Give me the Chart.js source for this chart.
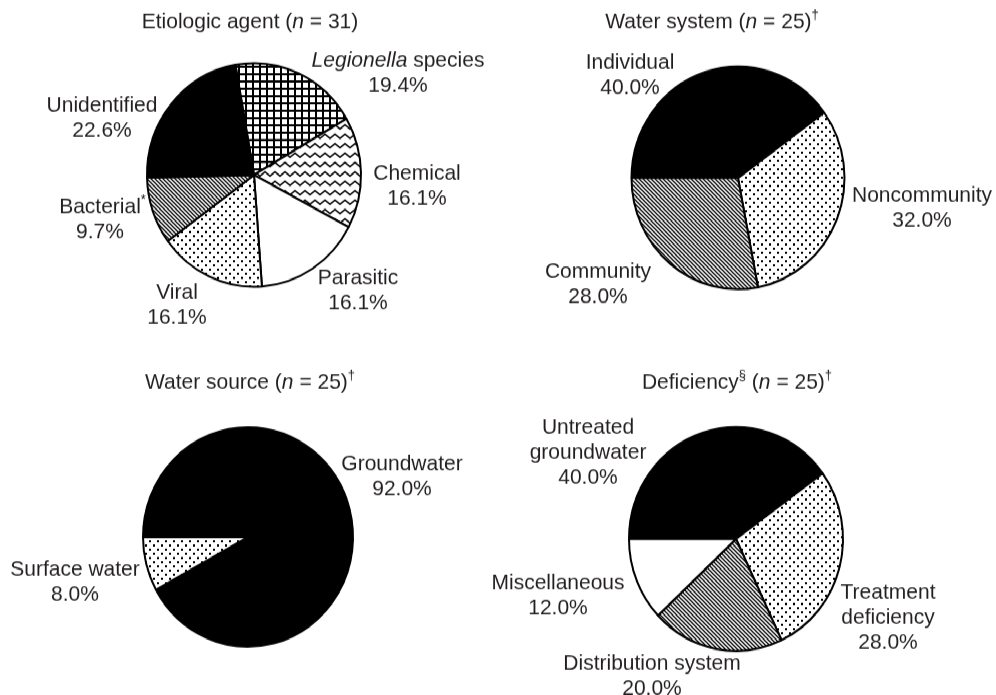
<!DOCTYPE html>
<html>
<head>
<meta charset="utf-8">
<title>Waterborne disease outbreaks</title>
<script src="https://cdn.jsdelivr.net/npm/chart.js@4.4.1/dist/chart.umd.min.js"></script>
<style>
    html, body { margin: 0; padding: 0; background: #fff; }
    /* the scanned figure is a little taller than wide, so stretch the page */
    #page { position: absolute; left: 0; top: 0; width: 996px; height: 665px;
            transform: scaleY(1.045); transform-origin: 0 0; }
    #page canvas { position: absolute; left: 0; top: 0; }
</style>
</head>
<body>
<div id="page">
    <canvas id="agentChart" width="996" height="665"></canvas>
    <canvas id="systemChart" width="996" height="665"></canvas>
    <canvas id="sourceChart" width="996" height="665"></canvas>
    <canvas id="deficiencyChart" width="996" height="665"></canvas>
</div>
<script>
// data

const agentCategories = ['Legionella species', 'Chemical', 'Parasitic', 'Viral', 'Bacterial', 'Unidentified'];
const agentValues = [19.4, 16.1, 16.1, 16.1, 9.7, 22.6];

const systemCategories = ['Individual', 'Noncommunity', 'Community'];
const systemValues = [40.0, 32.0, 28.0];

const sourceCategories = ['Groundwater', 'Surface water'];
const sourceValues = [92.0, 8.0];

const deficiencyCategories = ['Untreated groundwater', 'Treatment deficiency', 'Distribution system', 'Miscellaneous'];
const deficiencyValues = [40.0, 28.0, 20.0, 12.0];

const SY = 1.045;
const INK = '#231f20';
const FONT = '"Liberation Sans", Arial, Helvetica, sans-serif';
const LINE = 25;

// fills (black & white print patterns)

function makeFill(kind) {
    if (kind === 'black') return '#000';
    if (kind === 'white') return '#fff';
    const tile = document.createElement('canvas');
    const t = tile.getContext('2d');
    if (kind === 'grid') {
        tile.width = tile.height = 7;
        t.fillStyle = '#000';
        t.fillRect(0, 0, 7, 7);
        t.fillStyle = '#fff';
        t.fillRect(2, 2, 5, 5);
    } else if (kind === 'wave') {
        tile.width = 10; tile.height = 9;
        t.fillStyle = '#fff';
        t.fillRect(0, 0, 10, 9);
        t.strokeStyle = '#000';
        t.lineWidth = 1.6;
        t.lineCap = 'round';
        t.beginPath();
        t.moveTo(0, 6.5); t.lineTo(5, 2.5); t.lineTo(10, 6.5);
        t.stroke();
    } else if (kind === 'dots') {
        tile.width = tile.height = 8;
        t.fillStyle = '#fff';
        t.fillRect(0, 0, 8, 8);
        t.fillStyle = '#000';
        t.fillRect(1, 1, 2, 2);
        t.fillRect(5, 5, 2, 2);
    } else if (kind === 'hatch') {
        tile.width = tile.height = 4;
        t.fillStyle = '#fff';
        t.fillRect(0, 0, 4, 4);
        t.strokeStyle = '#000';
        t.lineWidth = 1.25;
        t.beginPath();
        t.moveTo(-1, -1); t.lineTo(5, 5);
        t.moveTo(-1, 3); t.lineTo(1, 5);
        t.moveTo(3, -1); t.lineTo(5, 1);
        t.stroke();
    }
    return t.createPattern(tile, 'repeat');
}

// text with _italic_ and ^superscript^ parts, centred on x
// (labels hang their superscript outside the centred width, titles don't)

function drawRich(ctx, str, x, y, supInWidth) {
    const parts = str.split(/(_[^_]+_|\^[^^]+\^)/).filter(Boolean).map(p => {
        if (p[0] === '_') return { t: p.slice(1, -1), font: 'italic 21px ' + FONT, dy: 0 };
        if (p[0] === '^') return { t: p.slice(1, -1), font: '13px ' + FONT, dy: -7, sup: true };
        return { t: p, font: '21px ' + FONT, dy: 0 };
    });
    let w = 0;
    parts.forEach(p => {
        ctx.font = p.font;
        p.w = ctx.measureText(p.t).width;
        if (supInWidth || !p.sup) w += p.w;
    });
    let cx = x - w / 2;
    ctx.textAlign = 'left';
    ctx.textBaseline = 'middle';
    parts.forEach(p => {
        ctx.font = p.font;
        ctx.fillText(p.t, cx, y + p.dy);
        cx += p.w;
    });
}

// chart layout (centre / radius in page pixels, label offsets from the centre)

const pies = [
    {
        id: 'agentChart', center: [254, 175], r: 107, rotation: -10,
        title: 'Etiologic agent (_n_ = 31)', titleAt: [-4, -153],
        categories: agentCategories, values: agentValues,
        fills: ['grid', 'wave', 'white', 'dots', 'hatch', 'black'],
        text: { 'Legionella species': '_Legionella_ species', 'Bacterial': 'Bacterial^*^' },
        at: [[144, -101.5], [163, 11], [104, 115.5], [-77, 130], [-154, 45], [-152, -56.5]]
    },
    {
        id: 'systemChart', center: [738, 178], r: 106.5, rotation: -90,
        title: 'Water system (_n_ = 25)^†^', titleAt: [-26, -156],
        categories: systemCategories, values: systemValues,
        fills: ['black', 'dots', 'hatch'],
        text: {},
        at: [[-108, -103], [184, 30.5], [-140, 106.5]]
    },
    {
        id: 'sourceChart', center: [248, 537], r: 105, rotation: -90,
        title: 'Water source (_n_ = 25)^†^', titleAt: [2, -154],
        categories: sourceCategories, values: sourceValues,
        fills: ['black', 'dots'],
        text: {},
        at: [[154, -60], [-173, 45.5]]
    },
    {
        id: 'deficiencyChart', center: [736, 539], r: 107, rotation: -90,
        title: 'Deficiency^§^ (_n_ = 25)^†^', titleAt: [1, -156],
        categories: deficiencyCategories, values: deficiencyValues,
        fills: ['black', 'dots', 'hatch', 'white'],
        text: { 'Untreated groundwater': 'Untreated\ngroundwater', 'Treatment deficiency': 'Treatment\ndeficiency' },
        at: [[-148, -86], [152, 79], [-84, 137], [-178, 57]]
    }
];

pies.forEach(p => {
    const canvas = document.getElementById(p.id);
    const W = canvas.width, H = canvas.height;
    const cx = p.center[0], cy = p.center[1] / SY;

    const labelPlugin = {
        id: 'pieText',
        afterDraw(chart) {
            const ctx = chart.ctx;
            const arcs = chart.getDatasetMeta(0).data;
            const values = chart.data.datasets[0].data;
            ctx.save();
            ctx.fillStyle = INK;
            const x0 = arcs[0].x, y0 = arcs[0].y;
            drawRich(ctx, p.title, x0 + p.titleAt[0], y0 + p.titleAt[1] / SY, true);
            chart.data.labels.forEach((name, i) => {
                const lines = (p.text[name] || name).split('\n');
                lines.push(values[i].toFixed(1) + '%');
                const bx = arcs[i].x + p.at[i][0];
                const by = arcs[i].y + p.at[i][1] / SY;
                lines.forEach((ln, k) => {
                    drawRich(ctx, ln, bx, by + (k - (lines.length - 1) / 2) * LINE / SY, false);
                });
            });
            ctx.restore();
        }
    };

    new Chart(canvas, {
        type: 'pie',
        data: {
            labels: p.categories,
            datasets: [{
                data: p.values,
                backgroundColor: p.fills.map(makeFill),
                borderColor: '#000',
                borderWidth: 2
            }]
        },
        options: {
            responsive: false,
            animation: false,
            events: [],
            rotation: p.rotation,
            radius: p.r,
            layout: {
                padding: { left: cx - p.r, right: W - cx - p.r, top: cy - p.r, bottom: H - cy - p.r }
            },
            plugins: {
                legend: { display: false },
                tooltip: { enabled: false }
            }
        },
        plugins: [labelPlugin]
    });
});
</script>
</body>
</html>
